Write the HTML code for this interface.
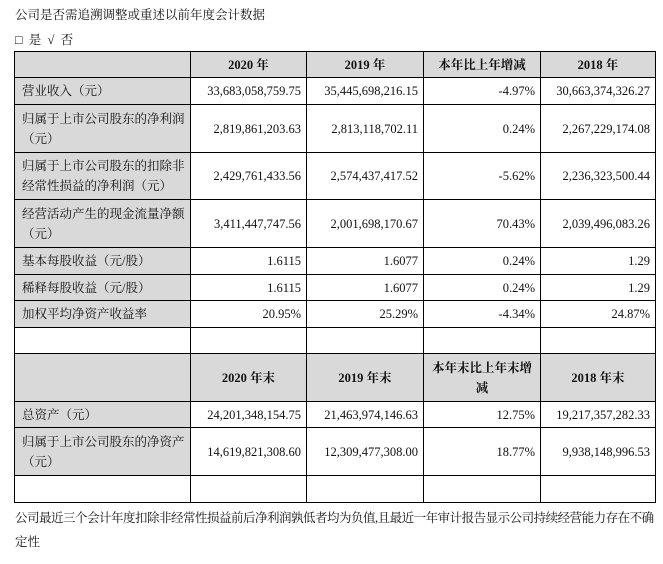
<!DOCTYPE html>
<html><head><meta charset="utf-8"><style>
body{margin:0;width:663px;height:564px;background:#fff;font-family:"Liberation Serif","Noto Serif CJK SC",serif;font-size:12.5px;color:#111;position:relative;overflow:hidden}
.t{position:absolute;left:15px;white-space:nowrap}
table{position:absolute;left:14px;top:51px;border-collapse:collapse;table-layout:fixed}
td{border:1px solid #000;padding:0 5px;line-height:20px;text-align:right;overflow:hidden;white-space:nowrap}
td.l{text-align:left;padding-left:7px;background:#d9d9d9;white-space:normal}
tr.h td{background:#d9d9d9;text-align:center;font-weight:bold}
</style></head><body>
<div class="t" style="top:5px">公司是否需追溯调整或重述以前年度会计数据</div>
<div class="t" style="top:30px">□&nbsp;&nbsp;是&nbsp;&nbsp;√&nbsp;&nbsp;否</div>
<table>
<colgroup><col style="width:176px"><col style="width:116px"><col style="width:117px"><col style="width:117px"><col style="width:115px"></colgroup>
<tr class="h" style="height:26px"><td></td><td>2020 年</td><td>2019 年</td><td>本年比上年增减</td><td>2018 年</td></tr>
<tr style="height:27px"><td class="l">营业收入（元）</td><td>33,683,058,759.75</td><td>35,445,698,216.15</td><td>-4.97%</td><td>30,663,374,326.27</td></tr>
<tr style="height:48px"><td class="l">归属于上市公司股东的净利润（元）</td><td>2,819,861,203.63</td><td>2,813,118,702.11</td><td>0.24%</td><td>2,267,229,174.08</td></tr>
<tr style="height:47px"><td class="l">归属于上市公司股东的扣除非经常性损益的净利润（元）</td><td>2,429,761,433.56</td><td>2,574,437,417.52</td><td>-5.62%</td><td>2,236,323,500.44</td></tr>
<tr style="height:48px"><td class="l">经营活动产生的现金流量净额（元）</td><td>3,411,447,747.56</td><td>2,001,698,170.67</td><td>70.43%</td><td>2,039,496,083.26</td></tr>
<tr style="height:27px"><td class="l">基本每股收益（元/股）</td><td>1.6115</td><td>1.6077</td><td>0.24%</td><td>1.29</td></tr>
<tr style="height:26px"><td class="l">稀释每股收益（元/股）</td><td>1.6115</td><td>1.6077</td><td>0.24%</td><td>1.29</td></tr>
<tr style="height:27px"><td class="l">加权平均净资产收益率</td><td>20.95%</td><td>25.29%</td><td>-4.34%</td><td>24.87%</td></tr>
<tr style="height:26px"><td></td><td></td><td></td><td></td><td></td></tr>
<tr class="h" style="height:48px"><td></td><td>2020 年末</td><td>2019 年末</td><td style="white-space:normal">本年末比上年末增减</td><td>2018 年末</td></tr>
<tr style="height:26px"><td class="l">总资产（元）</td><td>24,201,348,154.75</td><td>21,463,974,146.63</td><td>12.75%</td><td>19,217,357,282.33</td></tr>
<tr style="height:48px"><td class="l">归属于上市公司股东的净资产（元）</td><td>14,619,821,308.60</td><td>12,309,477,308.00</td><td>18.77%</td><td>9,938,148,996.53</td></tr>
<tr style="height:27px"><td></td><td></td><td></td><td></td><td></td></tr>
</table>
<div class="t" style="top:508px;letter-spacing:-0.5px">公司最近三个会计年度扣除非经常性损益前后净利润孰低者均为负值,且最近一年审计报告显示公司持续经营能力存在不确</div>
<div class="t" style="top:532px">定性</div>
</body></html>
